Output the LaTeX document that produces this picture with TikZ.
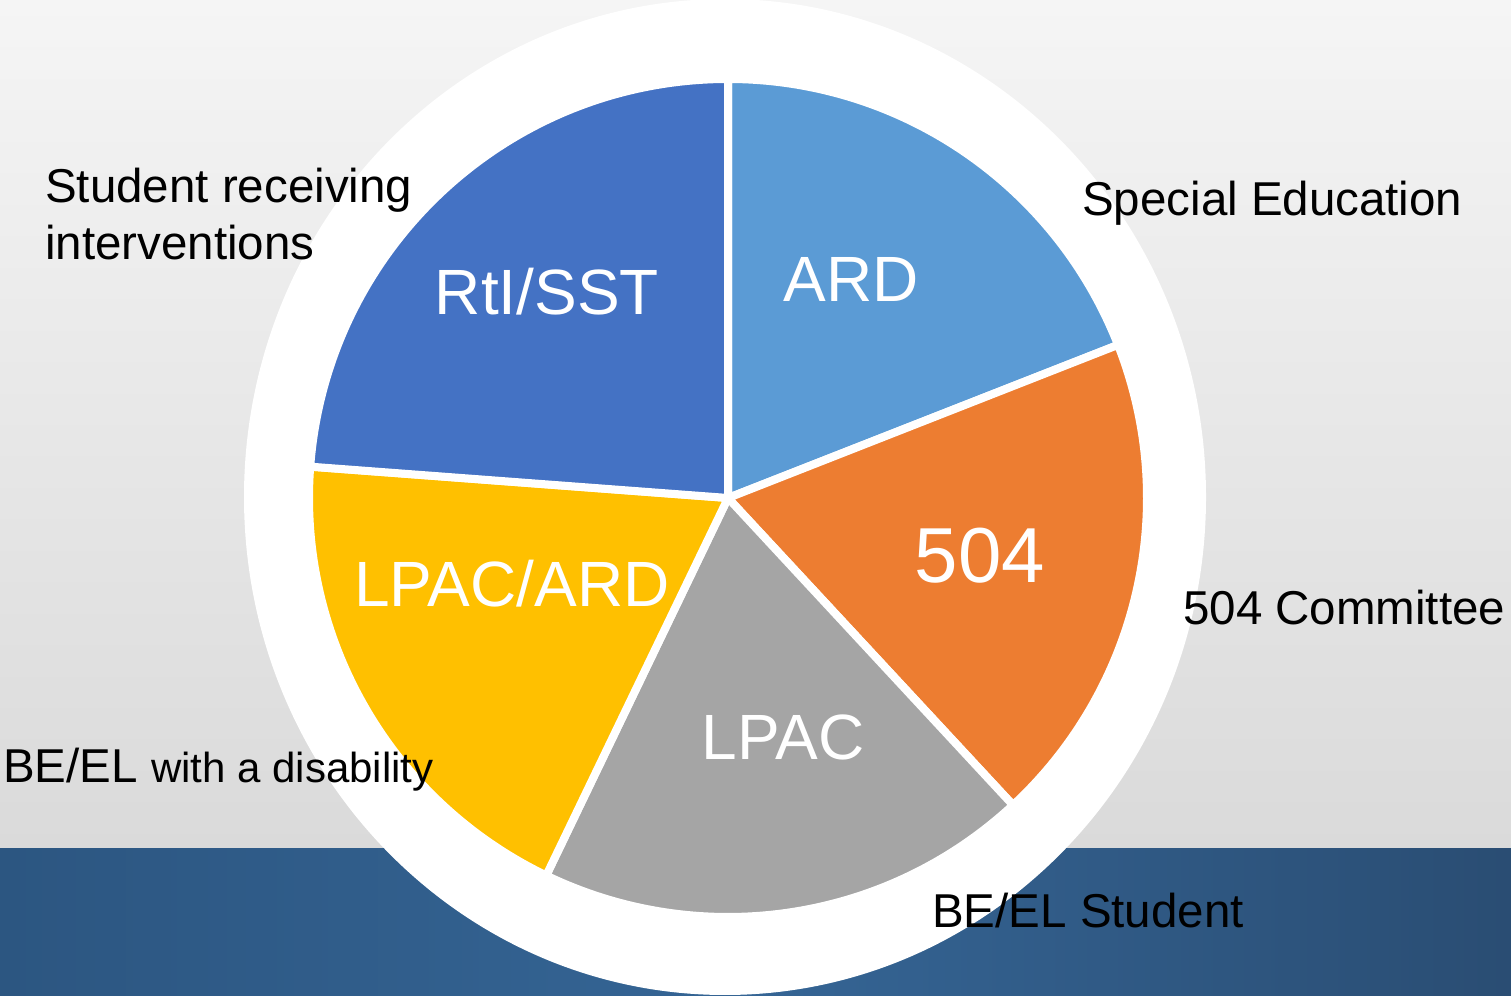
\documentclass[tikz,border=0pt]{standalone}
\usepackage{fontspec}
\setmainfont{Liberation Sans}
\definecolor{rti}{HTML}{4472C4}
\definecolor{ard}{HTML}{5B9BD5}
\definecolor{five}{HTML}{ED7D31}
\definecolor{lpac}{HTML}{A5A5A5}
\definecolor{lpacard}{HTML}{FFC000}
\definecolor{bgtop}{HTML}{F5F5F5}
\definecolor{bgbot}{HTML}{DADADA}
\definecolor{bandL}{HTML}{2C5681}
\definecolor{bandM}{HTML}{356595}
\definecolor{bandR}{HTML}{2A4D73}
\begin{document}
\begin{tikzpicture}[x=1pt,y=1pt,
  outer/.style={anchor=base west, inner sep=0pt, text=black, font=\fontsize{47.5}{55}\selectfont},
  inlabel/.style={anchor=base, inner sep=0pt, text=white, font=\fontsize{64}{70}\selectfont},
  slice/.style={draw=white, line width=8pt, line join=round}]
\useasboundingbox (0,0) rectangle (1511,995);
\shade[top color=bgtop, bottom color=bgbot] (0,146) rectangle (1511,995);
\shade[left color=bandL, right color=bandR, middle color=bandM] (0,0) rectangle (1511,146);
\fill[white] (725,498) ellipse [x radius=481, y radius=498];
\coordinate (c) at (728,497);
\def\R{419}
\filldraw[slice, fill=ard] (c) -- ++(90:\R) arc[start angle=90, end angle=21.43, radius=\R] -- cycle;
\filldraw[slice, fill=five] (c) -- ++(21.43:\R) arc[start angle=21.43, end angle=-47.14, radius=\R] -- cycle;
\filldraw[slice, fill=lpac] (c) -- ++(-47.14:\R) arc[start angle=-47.14, end angle=-115.71, radius=\R] -- cycle;
\filldraw[slice, fill=lpacard] (c) -- ++(-115.71:\R) arc[start angle=-115.71, end angle=-184.29, radius=\R] -- cycle;
\filldraw[slice, fill=rti] (c) -- ++(175.71:\R) arc[start angle=175.71, end angle=90, radius=\R] -- cycle;
\node[inlabel] (l1) at (547,680) {RtI/SST};
\node[inlabel] (l2) at (851,693) {ARD};
\node[inlabel, font=\fontsize{78}{80}\selectfont] (l3) at (980,412) {504};
\node[inlabel] (l4) at (512,388) {LPAC/ARD};
\node[inlabel] (l5) at (783,235) {LPAC};
\node[outer] (stud1) at (45,792) {Student receiving};
\node[outer] (stud2) at (45,735) {interventions};
\node[outer] (sped) at (1082,779) {Special Education};
\node[outer] (com) at (1183,370) {504 Committee};
\node[outer] (beel) at (3,212) {BE/EL {\fontsize{42}{48}\selectfont with a disability}};
\node[outer] (bees) at (932,67) {BE/EL Student};
\end{tikzpicture}
\end{document}
